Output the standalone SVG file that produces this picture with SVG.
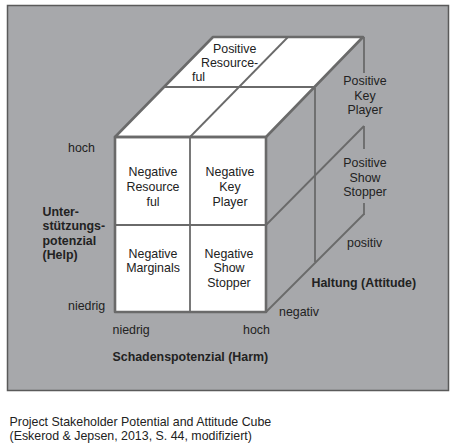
<svg xmlns="http://www.w3.org/2000/svg" width="453" height="448" viewBox="0 0 453 448">
<style>
text{font-family:"Liberation Sans",Arial,sans-serif;font-size:12.4px;fill:#222}
.b{font-weight:bold}
.c{text-anchor:middle}
.face{fill:#fff;stroke:none}
.edge{fill:none;stroke:#6a6a6a;stroke-width:2.6;stroke-linejoin:round}
.inner{fill:none;stroke:#6a6a6a;stroke-width:1.8}
</style>
<rect width="453" height="448" fill="#fff"/>
<rect id="panel" x="7.5" y="5.5" width="441" height="385" fill="#a7a8ab" stroke="#5a5a5a" stroke-width="1.5"/>
<g id="cube">
  <polygon class="face" points="115,137 213,37 363,37 266,137"/>
  <rect class="face" x="115" y="137" width="151" height="175"/>
  <g id="right-face-lines">
    <line class="inner" x1="315" y1="88" x2="315" y2="262"/>
    <line class="inner" x1="364" y1="126" x2="266" y2="225"/>
    <line class="inner" x1="364" y1="214" x2="266" y2="312"/>
    <line class="inner" x1="364" y1="37" x2="364" y2="73"/>
    <line class="inner" x1="364" y1="126" x2="364" y2="149"/>
    <line class="inner" x1="364" y1="203" x2="364" y2="215"/>
  </g>
  <g id="grid-lines">
    <line class="inner" x1="165" y1="87" x2="315" y2="87"/>
    <line class="inner" x1="190" y1="137" x2="288" y2="37"/>
    <line class="inner" x1="190" y1="137" x2="190" y2="312"/>
    <line class="inner" x1="115" y1="225" x2="266" y2="225"/>
  </g>
  <polygon class="edge" points="115,137 213,37 363,37 266,137"/>
  <rect class="edge" x="115" y="137" width="151" height="175"/>
</g>
<g id="positive-resourceful">
  <text x="213" y="52.5">Positive</text>
  <text x="201" y="67">Resource-</text>
  <text x="192" y="80.5">ful</text>
</g>
<g id="positive-key-player">
  <text class="c" x="365" y="85">Positive</text>
  <text class="c" x="365" y="99.5">Key</text>
  <text class="c" x="365" y="114">Player</text>
</g>
<g id="positive-show-stopper">
  <text class="c" x="365" y="167">Positive</text>
  <text class="c" x="365" y="181.5">Show</text>
  <text class="c" x="365" y="196">Stopper</text>
</g>
<g id="negative-resourceful">
  <text class="c" x="153" y="175.5">Negative</text>
  <text class="c" x="153" y="190.5">Resource</text>
  <text class="c" x="153" y="205.5">ful</text>
</g>
<g id="negative-key-player">
  <text class="c" x="230" y="175.5">Negative</text>
  <text class="c" x="230" y="190.5">Key</text>
  <text class="c" x="230" y="205.5">Player</text>
</g>
<g id="negative-marginals">
  <text class="c" x="153" y="257.5">Negative</text>
  <text class="c" x="153" y="272">Marginals</text>
</g>
<g id="negative-show-stopper">
  <text class="c" x="229" y="257.5">Negative</text>
  <text class="c" x="229" y="272">Show</text>
  <text class="c" x="229" y="286.5">Stopper</text>
</g>
<g id="axis-help">
  <text x="68" y="152">hoch</text>
  <text x="68" y="310">niedrig</text>
  <text class="b" x="42.5" y="215.5">Unter-</text>
  <text class="b" x="42.5" y="230">stützungs-</text>
  <text class="b" x="42.5" y="244.5">potenzial</text>
  <text class="b" x="42.5" y="259">(Help)</text>
</g>
<g id="axis-harm">
  <text x="112.5" y="334">niedrig</text>
  <text x="243" y="334">hoch</text>
  <text class="b" x="112.5" y="360.5">Schadenspotenzial (Harm)</text>
</g>
<g id="axis-attitude">
  <text x="279" y="316">negativ</text>
  <text x="347" y="246.5">positiv</text>
  <text class="b" x="311.5" y="286.5">Haltung (Attitude)</text>
</g>
<g id="caption">
  <text x="9.5" y="425.5">Project Stakeholder Potential and Attitude Cube</text>
  <text x="9.5" y="439.5">(Eskerod &amp; Jepsen, 2013, S. 44, modifiziert)</text>
</g>
</svg>
